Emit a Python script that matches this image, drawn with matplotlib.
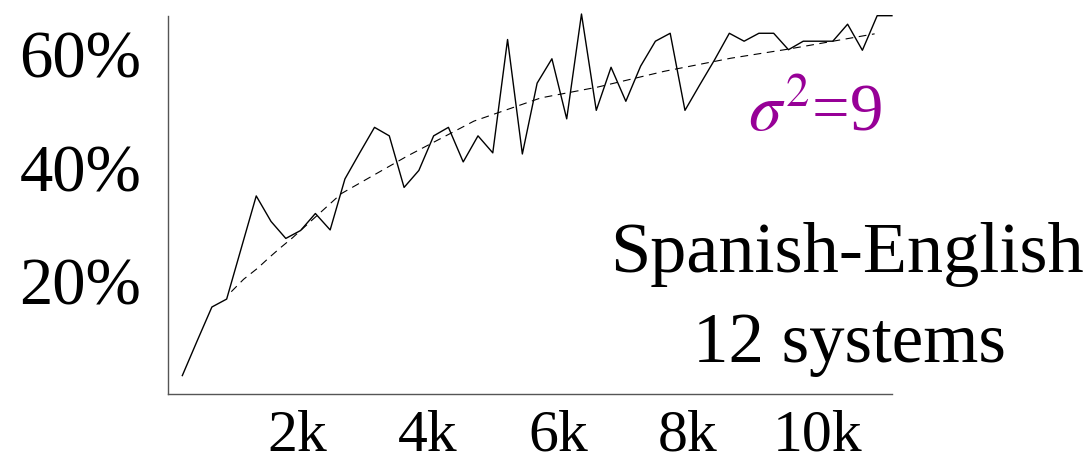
import numpy as np
import matplotlib
matplotlib.use("Agg")
import matplotlib.pyplot as plt

plt.rcParams['font.family'] = ['Liberation Serif', 'DejaVu Serif']
plt.rcParams['mathtext.fontset'] = 'stix'

# accuracy (%) after each batch of training data, in thousands of sentences
step_k = 10 / 44
acc = [3.3, 9.4, 15.4, 16.8, 25.9, 35.0, 30.5, 27.5, 28.9, 31.9,
       29.0, 38.0, 42.6, 47.1, 45.6, 36.5, 39.5, 45.6, 47.1, 41.0,
       45.6, 42.6, 62.6, 42.4, 54.9, 59.2, 48.6, 67.1, 50.1, 57.7,
       51.7, 57.9, 62.3, 63.7, 50.1, 54.6, 59.0, 63.7, 62.3, 63.7,
       63.7, 60.8, 62.3, 62.3, 62.3, 65.3, 60.7, 66.8, 66.8]
x = step_k * np.arange(1, len(acc) + 1)

# smoothed trend
trend_x = [0.98, 1.17, 1.38, 1.57, 1.74, 1.92, 2.67, 3.68, 4.71, 5.74,
           6.61, 7.64, 8.66, 9.54, 10.87]
trend_y = [18.1, 20.3, 22.2, 24.2, 25.9, 27.6, 35.4, 42.0, 48.2, 52.3,
           54.2, 57.0, 59.3, 60.9, 63.6]

xticks = [2, 4, 6, 8, 10]
xlabels = ['2k', '4k', '6k', '8k', '10k']
yticks = [20, 40, 60]
ylabels = ['20%', '40%', '60%']

fig = plt.figure(figsize=(10.9, 4.66), dpi=100)
ax = fig.add_axes([0.1537, 0.1539, 0.6646, 0.8124])

ax.plot(x, acc, color='black', lw=1.0, clip_on=False)
ax.plot(trend_x, trend_y, color='black', lw=0.8, dashes=(7, 5))

ax.set_xlim(0, x[-1])
ax.set_ylim(0, 66.8)
ax.set_xticks(xticks)
ax.set_xticklabels(xlabels, fontsize=43)
ax.set_yticks(yticks)
ax.set_yticklabels(ylabels, fontsize=48)
ax.tick_params(length=0)
ax.tick_params(axis='x', pad=11)
ax.tick_params(axis='y', pad=19)

for s in ['top', 'right']:
    ax.spines[s].set_visible(False)
for s in ['left', 'bottom']:
    ax.spines[s].set_color('#555555')
    ax.spines[s].set_linewidth(1.0)

ax.text(0.809, 0.72, r'$\sigma^2$=9', transform=fig.transFigure, ha='right',
        va='baseline', fontsize=48, color='#970097')
ax.text(0.777, 0.417, 'Spanish-English', transform=fig.transFigure,
        ha='center', va='baseline', fontsize=52)
ax.text(0.779, 0.224, '12 systems', transform=fig.transFigure,
        ha='center', va='baseline', fontsize=51)

fig.savefig('out.png', dpi=100)
